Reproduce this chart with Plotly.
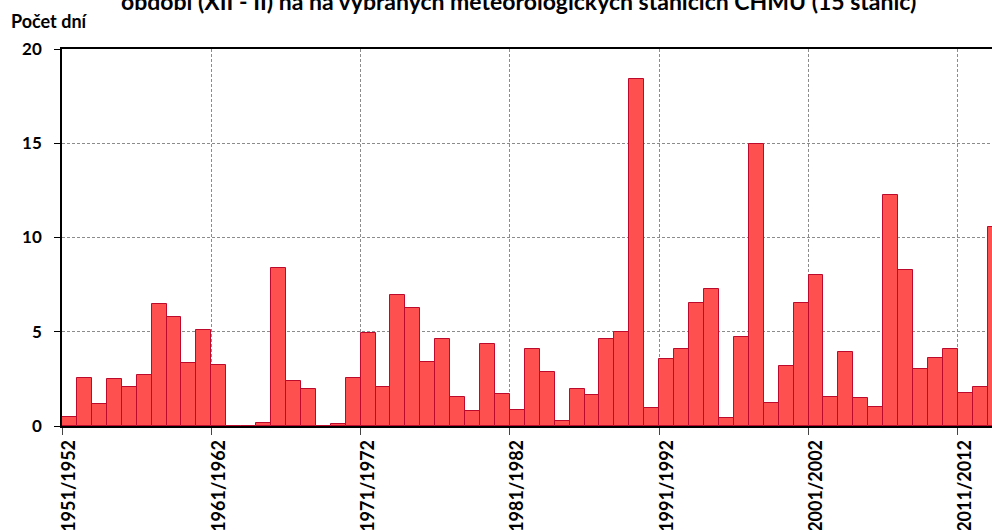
import plotly.graph_objects as go

start_years = list(range(1951, 2014))
seasons = [f"{y}/{y+1}" for y in start_years]
days = [0.48, 2.55, 1.19, 2.48, 2.09, 2.71, 6.48, 5.79, 3.33, 5.10,
        3.26, 0.0, 0.0, 0.18, 8.40, 2.41, 1.95, 0.0, 0.09, 2.55,
        4.96, 2.09, 6.94, 6.25, 3.40, 4.64, 1.56, 0.80, 4.34, 1.72,
        0.87, 4.09, 2.87, 0.25, 1.95, 1.63, 4.64, 5.01, 18.41, 0.94,
        3.58, 4.09, 6.55, 7.26, 0.41, 4.71, 14.95, 1.24, 3.17, 6.55,
        8.01, 1.56, 3.95, 1.49, 1.01, 12.24, 8.26, 3.01, 3.63, 4.09,
        1.77, 2.09, 10.54]
title_text = "období (XII - II) na na vybraných meteorologických stanicích ČHMÚ (15 stanic)"
y_title = "Počet dní"

FONT = "Lato"
W, H = 992, 530
ml, mr, mt, mb = 62, 0, 49, 104
pw = W - ml - mr
ph = H - mt - mb

fig = go.Figure(go.Bar(
    x=seasons, y=days,
    marker=dict(color="#FF5050", line=dict(color="#BC0A2C", width=1)),
    hoverinfo="x+y",
))

fig.update_layout(
    width=W, height=H,
    margin=dict(l=ml, r=mr, t=mt, b=mb, autoexpand=False),
    plot_bgcolor="white", paper_bgcolor="white",
    bargap=0, showlegend=False,
    font=dict(family=FONT, color="black"),
)
fig.update_xaxes(
    type="category", automargin=False,
    range=[-0.5, -0.5 + pw / 14.93],
    tickmode="linear", tick0=0, dtick=10,
    tickson="boundaries",
    tickangle=-90,
    ticks="outside", ticklen=7, tickcolor="#444",
    tickfont=dict(family=FONT, size=18, color="black", weight="bold"),
    ticklabelstandoff=5,
    showline=True, linecolor="black", linewidth=1.5, mirror=True,
    showgrid=True, gridcolor="#8c8c8c", griddash="3px,2px", gridwidth=1,
)
fig.update_yaxes(
    automargin=False,
    range=[0, 20], tickmode="linear", tick0=0, dtick=5,
    ticks="outside", ticklen=6, tickcolor="black",
    tickfont=dict(family=FONT, size=17, color="black", weight="bold"),
    ticklabelstandoff=9,
    showline=True, linecolor="black", linewidth=1.5,
    showgrid=True, gridcolor="#8c8c8c", griddash="3px,2px", gridwidth=1,
    zeroline=False,
)
fig.add_annotation(
    text=title_text, xref="paper", yref="paper",
    x=(518 - ml) / pw, y=1 + (mt - 17) / ph, xanchor="center", yanchor="bottom",
    showarrow=False, font=dict(family=FONT, size=23, color="black", weight="bold"),
)
fig.add_annotation(
    text=y_title, xref="paper", yref="paper",
    x=(9 - ml) / pw, y=1 + (mt - 21) / ph, xanchor="left", yanchor="middle",
    showarrow=False, font=dict(family=FONT, size=18, color="black", weight="bold"),
)

fig.write_html("out.html", config={"displayModeBar": False},
               post_script="document.body.style.margin='0';")
